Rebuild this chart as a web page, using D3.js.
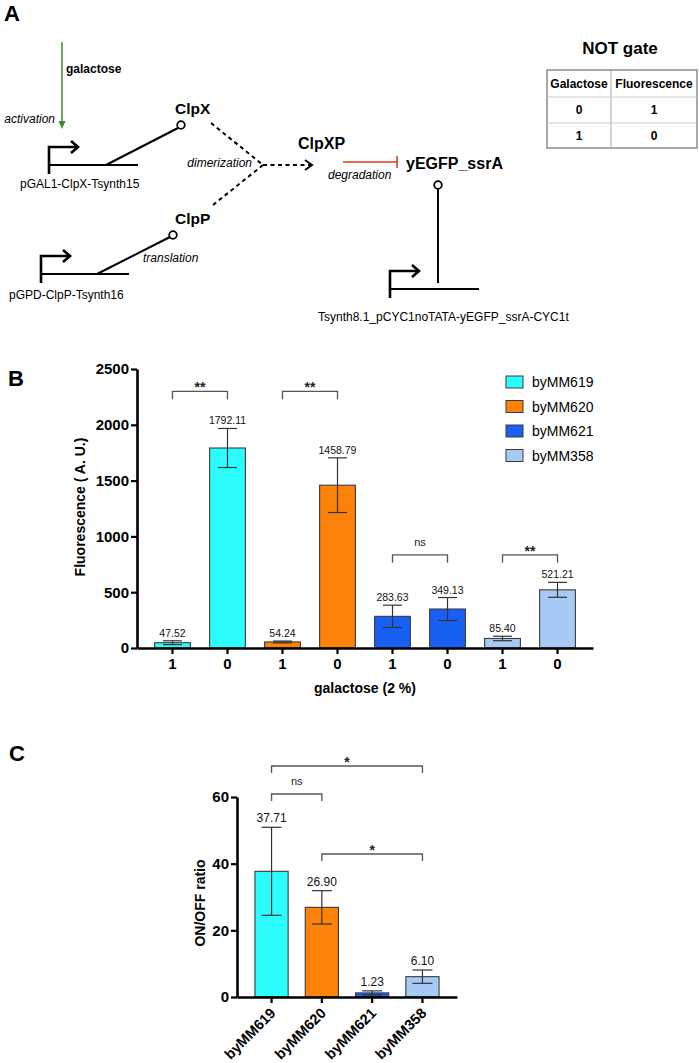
<!DOCTYPE html>
<html>
<head>
<meta charset="utf-8">
<script src="https://cdn.jsdelivr.net/npm/d3@7"></script>
<style>
  body { margin: 0; background: #fff; }
  svg { font-family: "Liberation Sans", Arial, sans-serif; }
</style>
</head>
<body>
<div id="fig"></div>
<script>
// strains + colours
var strains = ["byMM619", "byMM620", "byMM621", "byMM358"];
var strainColors = ["#2bfdfd", "#fd820a", "#1860f4", "#a7caf5"];

// panel B: fluorescence per galactose condition
var galLabels = ["1", "0", "1", "0", "1", "0", "1", "0"];
var galStrain = [0, 0, 1, 1, 2, 2, 3, 3];
var fluoValues = [47.52, 1792.11, 54.24, 1458.79, 283.63, 349.13, 85.40, 521.21];
var fluoErrors = [17, 175, 8, 245, 100, 103, 20, 67];
var fluoTicks = [0, 500, 1000, 1500, 2000, 2500];
var fluoSig = [[0, 1, "**", 2300], [2, 3, "**", 2300], [4, 5, "ns", 835], [6, 7, "**", 835]];

// panel C: ON/OFF ratio
var ratioValues = [37.71, 26.90, 1.23, 6.10];
var ratioErrors = [13.2, 5.0, 0.6, 2.0];
var ratioTicks = [0, 20, 40, 60];
var ratioSig = [[0, 3, "*", 69.3], [0, 1, "ns", 60.9], [1, 3, "*", 42.9]];

// truth table
var tableHead = ["Galactose", "Fluorescence"];
var tableRows = [["0", "1"], ["1", "0"]];

var W = 699, H = 1063;
var svg = d3.select("#fig").append("svg").attr("width", W).attr("height", H);

function txt(g, x, y, s, size, opt) {
  opt = opt || {};
  return g.append("text").attr("x", x).attr("y", y).text(s)
    .attr("font-size", size)
    .attr("font-weight", opt.bold ? "bold" : null)
    .attr("font-style", opt.italic ? "italic" : null)
    .attr("text-anchor", opt.anchor || "start")
    .attr("dominant-baseline", opt.base || null)
    .attr("fill", opt.fill || "#000");
}

// ---------------- panel A ----------------
var A = svg.append("g");
txt(A, 4, 21, "A", 22, {bold: true});

function promoter(x, y, len) {
  // bent arrow + baseline
  A.append("path").attr("d", "M" + x + "," + (y + 27) + "V" + y + "H" + (x + 29))
    .attr("fill", "none").attr("stroke", "#000").attr("stroke-width", 2.6);
  A.append("path").attr("d", "M" + (x + 22) + "," + (y - 6) + "L" + (x + 29) + "," + y + "L" + (x + 22) + "," + (y + 6))
    .attr("fill", "none").attr("stroke", "#000").attr("stroke-width", 2.6);
  A.append("line").attr("x1", x).attr("x2", x + len).attr("y1", y + 18).attr("y2", y + 18)
    .attr("stroke", "#000").attr("stroke-width", 2.2);
}
function lollipop(x1, y1, x2, y2) {
  A.append("line").attr("x1", x1).attr("y1", y1).attr("x2", x2).attr("y2", y2)
    .attr("stroke", "#000").attr("stroke-width", 2);
}
function circ(x, y) {
  A.append("circle").attr("cx", x).attr("cy", y).attr("r", 3.8)
    .attr("fill", "#fff").attr("stroke", "#000").attr("stroke-width", 1.8);
}

// galactose activation arrow
A.append("line").attr("x1", 62).attr("x2", 62).attr("y1", 42).attr("y2", 122)
  .attr("stroke", "#3c8a2e").attr("stroke-width", 1.5);
A.append("path").attr("d", "M58.5,121L65.5,121L62,129Z").attr("fill", "#3c8a2e");
txt(A, 66, 69, "galactose", 12, {bold: true, base: "central"});
txt(A, 55, 119, "activation", 12, {italic: true, anchor: "end", base: "central"});

promoter(49, 147, 89);
lollipop(106, 165, 178, 128);
circ(181, 125);
txt(A, 175, 108, "ClpX", 15.5, {bold: true, base: "central"});
txt(A, 20, 184, "pGAL1-ClpX-Tsynth15", 12, {base: "central"});

promoter(41, 256, 88);
lollipop(97, 274, 170, 237);
circ(173, 235);
txt(A, 175, 218, "ClpP", 15.5, {bold: true, base: "central"});
txt(A, 143, 258, "translation", 12, {italic: true, base: "central"});
txt(A, 9, 295, "pGPD-ClpP-Tsynth16", 12, {base: "central"});

// dimerization
var dash = "4,3.5";
[[211, 123], [213, 205]].forEach(function(p) {
  A.append("line").attr("x1", p[0]).attr("y1", p[1]).attr("x2", 263).attr("y2", 165)
    .attr("stroke", "#000").attr("stroke-width", 2).attr("stroke-dasharray", dash);
});
A.append("line").attr("x1", 263).attr("y1", 165).attr("x2", 311).attr("y2", 165)
  .attr("stroke", "#000").attr("stroke-width", 2).attr("stroke-dasharray", dash);
A.append("path").attr("d", "M305,160L312,165L305,170").attr("fill", "none")
  .attr("stroke", "#000").attr("stroke-width", 2);
txt(A, 252, 163, "dimerization", 12, {italic: true, anchor: "end", base: "central"});

txt(A, 298, 143, "ClpXP", 16, {bold: true, base: "central"});
A.append("line").attr("x1", 343).attr("x2", 397).attr("y1", 162).attr("y2", 162)
  .attr("stroke", "#e8341f").attr("stroke-width", 1.6);
A.append("line").attr("x1", 397).attr("x2", 397).attr("y1", 156).attr("y2", 168)
  .attr("stroke", "#e8341f").attr("stroke-width", 1.6);
txt(A, 328, 175, "degradation", 12, {italic: true, base: "central"});
txt(A, 406, 163, "yEGFP_ssrA", 16, {bold: true, base: "central"});

circ(438, 185);
lollipop(438, 189, 438, 283);
promoter(390, 271, 89);
txt(A, 318, 317, "Tsynth8.1_pCYC1noTATA-yEGFP_ssrA-CYC1t", 12, {base: "central"});

// truth table
txt(A, 620, 48, "NOT gate", 17, {bold: true, anchor: "middle", base: "central"});
var tx = [547, 611, 697], ty = [70, 97, 123, 148];
A.append("rect").attr("x", tx[0]).attr("y", ty[0]).attr("width", tx[2] - tx[0]).attr("height", ty[3] - ty[0])
  .attr("fill", "none").attr("stroke", "#8a8a8a").attr("stroke-width", 1.5);
A.append("line").attr("x1", tx[1]).attr("x2", tx[1]).attr("y1", ty[0]).attr("y2", ty[3]).attr("stroke", "#aaa");
[ty[1], ty[2]].forEach(function(y) {
  A.append("line").attr("x1", tx[0]).attr("x2", tx[2]).attr("y1", y).attr("y2", y).attr("stroke", "#ccc");
});
[tableHead].concat(tableRows).forEach(function(row, r) {
  row.forEach(function(s, c) {
    txt(A, (tx[c] + tx[c + 1]) / 2, (ty[r] + ty[r + 1]) / 2, s, 12, {bold: true, anchor: "middle", base: "central"});
  });
});

// ---------------- panel B ----------------
var B = svg.append("g");
txt(B, 8, 378, "B", 22, {bold: true, base: "central"});

var xB = d3.scaleBand().domain(d3.range(fluoValues.length)).range([137, 593])
  .paddingInner(0.35).paddingOuter(0.32);
var yB = d3.scaleLinear().domain([0, 2500]).range([648, 369]);

function styleAxis(g) {
  g.select(".domain").attr("stroke-width", 2.6);
  g.selectAll(".tick line").attr("stroke-width", 2.2);
  g.selectAll(".tick text").attr("font-size", 15).attr("font-weight", "bold")
    .attr("font-family", "Liberation Sans, Arial, sans-serif").attr("fill", "#000");
}

B.append("g").attr("transform", "translate(137,0)")
  .call(d3.axisLeft(yB).tickValues(fluoTicks).tickFormat(d3.format("d")).tickSize(6).tickSizeOuter(0).tickPadding(2))
  .call(styleAxis);

B.selectAll("rect.bar").data(fluoValues).enter().append("rect")
  .attr("class", "bar")
  .attr("x", function(d, i) { return xB(i); })
  .attr("width", xB.bandwidth())
  .attr("y", function(d) { return yB(d); })
  .attr("height", function(d) { return yB(0) - yB(d); })
  .attr("fill", function(d, i) { return strainColors[galStrain[i]]; })
  .attr("stroke", "#3a3a3a").attr("stroke-width", 1.1);

function errBars(g, vals, errs, x, y, capW, lab, off) {
  vals.forEach(function(v, i) {
    var cx = x(i) + x.bandwidth() / 2, top = y(v + errs[i]), bot = y(Math.max(0, v - errs[i]));
    g.append("line").attr("x1", cx).attr("x2", cx).attr("y1", top).attr("y2", bot).attr("stroke", "#333").attr("stroke-width", 1.2);
    [top, bot].forEach(function(yy) {
      g.append("line").attr("x1", cx - capW / 2).attr("x2", cx + capW / 2).attr("y1", yy).attr("y2", yy)
        .attr("stroke", "#333").attr("stroke-width", 1.2);
    });
    txt(g, cx, top - off, v.toFixed(2), lab, {anchor: "middle", fill: "#111"});
  });
}
errBars(B, fluoValues, fluoErrors, xB, yB, 19, 10.5, 4);

B.append("g").attr("transform", "translate(0,648)")
  .call(d3.axisBottom(xB).tickFormat(function(i) { return galLabels[i]; }).tickSize(6).tickSizeOuter(0).tickPadding(4))
  .call(styleAxis);

txt(B, 365, 693, "galactose (2 %)", 14, {bold: true, anchor: "middle"});
txt(B, 0, 0, "Fluorescence ( A. U.)", 14, {bold: true, anchor: "middle", base: "central"})
  .attr("transform", "translate(80,507) rotate(-90)");

function brackets(g, sig, x, y, leg) {
  sig.forEach(function(s) {
    var x1 = x(s[0]) + x.bandwidth() / 2, x2 = x(s[1]) + x.bandwidth() / 2, yy = y(s[3]);
    g.append("path").attr("d", "M" + x1 + "," + (yy + leg) + "V" + yy + "H" + x2 + "V" + (yy + leg))
      .attr("fill", "none").attr("stroke", "#555").attr("stroke-width", 1.3);
    var ns = s[2] === "ns";
    txt(g, (x1 + x2) / 2, ns ? yy - 9 : yy + 1, s[2], ns ? 11 : 14, {bold: !ns, anchor: "middle", fill: "#222"});
  });
}
brackets(B, fluoSig, xB, yB, 8);

// legend
strains.forEach(function(s, i) {
  var cy = 382 + i * 24.5;
  B.append("rect").attr("x", 506).attr("y", cy - 6).attr("width", 17).attr("height", 12)
    .attr("fill", strainColors[i]).attr("stroke", "#3a3a3a").attr("stroke-width", 1);
  txt(B, 532, cy, s, 14, {base: "central"});
});

// ---------------- panel C ----------------
var C = svg.append("g");
txt(C, 9, 753, "C", 22, {bold: true, base: "central"});

var xC = d3.scaleBand().domain(d3.range(ratioValues.length)).range([237, 457])
  .paddingInner(0.34).paddingOuter(0.357);
var yC = d3.scaleLinear().domain([0, 60]).range([997, 797]);

C.append("g").attr("transform", "translate(237,0)")
  .call(d3.axisLeft(yC).tickValues(ratioTicks).tickSize(6).tickSizeOuter(0).tickPadding(2))
  .call(styleAxis);

C.selectAll("rect.bar").data(ratioValues).enter().append("rect")
  .attr("class", "bar")
  .attr("x", function(d, i) { return xC(i); })
  .attr("width", xC.bandwidth())
  .attr("y", function(d) { return yC(d); })
  .attr("height", function(d) { return yC(0) - yC(d); })
  .attr("fill", function(d, i) { return strainColors[i]; })
  .attr("stroke", "#3a3a3a").attr("stroke-width", 1.1);

errBars(C, ratioValues, ratioErrors, xC, yC, 20, 12, 5);

var axC = C.append("g").attr("transform", "translate(0,997)")
  .call(d3.axisBottom(xC).tickFormat(function(i) { return strains[i]; }).tickSize(6).tickSizeOuter(0))
  .call(styleAxis);
axC.selectAll(".tick text").attr("font-size", 14.5)
  .attr("text-anchor", "end").attr("dy", null).attr("y", null)
  .attr("transform", "translate(5,17) rotate(-45)");

txt(C, 0, 0, "ON/OFF ratio", 14, {bold: true, anchor: "middle", base: "central"})
  .attr("transform", "translate(200,903) rotate(-90)");

brackets(C, ratioSig, xC, yC, 7);
</script>
</body>
</html>
